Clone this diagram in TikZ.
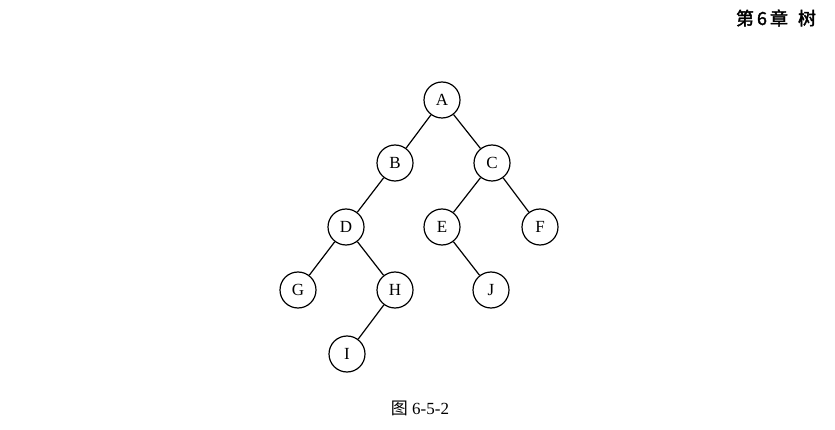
\documentclass[tikz,border=0pt]{standalone}
\usepackage{fontspec}
\setmainfont{Liberation Serif}
\newfontfamily\cjk{Noto Sans CJK SC}
\newfontfamily\cjkb[FakeBold=2]{Noto Sans CJK SC}
\begin{document}
\begin{tikzpicture}[x=1pt,y=-1pt,
  tn/.style={circle,draw,line width=1.2pt,minimum size=36pt,inner sep=0pt,font=\fontsize{17}{20}\selectfont},
  edge/.style={line width=1.2pt}]
\useasboundingbox (0,0) rectangle (835,430);
\node[tn] (A) at (442,100) {A};
\node[tn] (B) at (395,163) {B};
\node[tn] (C) at (492,163) {C};
\node[tn] (D) at (346,227) {D};
\node[tn] (E) at (442,227) {E};
\node[tn] (F) at (540,227) {F};
\node[tn] (G) at (298,290) {G};
\node[tn] (H) at (395,290) {H};
\node[tn] (J) at (491,290) {J};
\node[tn] (I) at (347,354) {I};
\draw[edge] (A) -- (B);
\draw[edge] (A) -- (C);
\draw[edge] (B) -- (D);
\draw[edge] (C) -- (E);
\draw[edge] (C) -- (F);
\draw[edge] (D) -- (G);
\draw[edge] (D) -- (H);
\draw[edge] (E) -- (J);
\draw[edge] (H) -- (I);
\node[font=\fontsize{17}{20}\selectfont] (cap) at (420,408) {{\cjk 图} 6-5-2};
\node[font=\fontsize{18}{20}\selectfont\cjkb] (hdr) at (776,18) {第\,6\,章\;\;树};
\end{tikzpicture}
\end{document}
